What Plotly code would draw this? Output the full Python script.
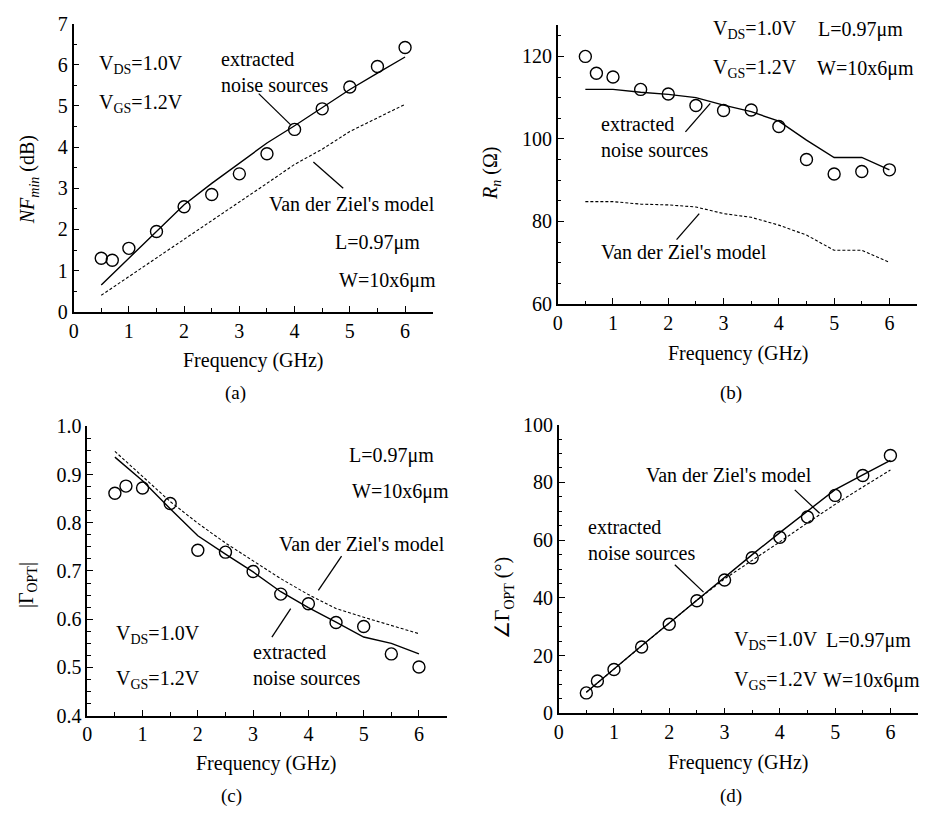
import plotly.graph_objects as go

W, H = 928, 823
FONT = "Liberation Serif"

# ---------------- data ----------------
freq_meas = [0.5, 0.7, 1.0, 1.5, 2.0, 2.5, 3.0, 3.5, 4.0, 4.5, 5.0, 5.5, 6.0]
freq_model = [0.5, 1.0, 1.5, 2.0, 2.5, 3.0, 3.5, 4.0, 4.5, 5.0, 5.5, 6.0]

# (a) NFmin (dB)
nf_meas = [1.30, 1.25, 1.54, 1.95, 2.55, 2.85, 3.35, 3.84, 4.43, 4.93, 5.46, 5.96, 6.42]
nf_extracted = [0.65, 1.30, 1.95, 2.60, 3.12, 3.62, 4.10, 4.52, 4.95, 5.40, 5.80, 6.19]
nf_vdz = [0.40, 0.85, 1.30, 1.76, 2.22, 2.66, 3.12, 3.58, 3.95, 4.38, 4.72, 5.04]

# (b) Rn (Ohm)
rn_meas = [120.0, 115.9, 115.0, 112.0, 110.9, 108.1, 106.9, 107.0, 103.0, 95.0, 91.5, 92.1, 92.5]
rn_extracted = [112.0, 112.0, 111.3, 110.8, 110.0, 108.2, 106.6, 104.3, 99.7, 95.5, 95.5, 92.5]
rn_vdz = [84.8, 84.8, 84.2, 84.0, 83.5, 81.9, 81.0, 79.1, 76.7, 73.0, 73.0, 70.1]

# (c) |Gamma_opt|
gm_meas = [0.861, 0.876, 0.872, 0.840, 0.743, 0.739, 0.699, 0.652, 0.632, 0.593, 0.585, 0.528, 0.501]
gm_extracted = [0.936, 0.887, 0.829, 0.773, 0.735, 0.698, 0.657, 0.624, 0.594, 0.563, 0.550, 0.528]
gm_vdz = [0.948, 0.896, 0.844, 0.799, 0.758, 0.721, 0.684, 0.651, 0.622, 0.604, 0.587, 0.570]

# (d) angle Gamma_opt (deg)
ga_meas = [7.1, 11.2, 15.2, 23.0, 30.9, 39.0, 46.2, 53.9, 61.0, 68.0, 75.5, 82.4, 89.3]
ga_extracted = [7.3, 15.5, 23.4, 31.3, 39.2, 47.2, 55.0, 62.6, 70.0, 77.5, 82.6, 87.6]
ga_vdz = [7.3, 15.5, 23.4, 31.3, 39.2, 46.6, 52.9, 59.4, 66.0, 72.4, 78.4, 84.3]

x_ticks = [0, 1, 2, 3, 4, 5, 6]


def pxx(v):
    return v / W


def pxy(v):
    return 1 - v / H


fig = go.Figure()

panels = [
    ("", nf_meas, nf_extracted, nf_vdz),
    ("2", rn_meas, rn_extracted, rn_vdz),
    ("3", gm_meas, gm_extracted, gm_vdz),
    ("4", ga_meas, ga_extracted, ga_vdz),
]

for suf, meas, ext, vdz in panels:
    xa, ya = "x" + suf, "y" + suf
    fig.add_trace(go.Scatter(x=freq_model, y=ext, mode="lines", xaxis=xa, yaxis=ya,
                             line=dict(color="black", width=1.4), showlegend=False))
    fig.add_trace(go.Scatter(x=freq_model, y=vdz, mode="lines", xaxis=xa, yaxis=ya,
                             line=dict(color="black", width=1.1, dash="3px,2px"), showlegend=False))
    fig.add_trace(go.Scatter(x=freq_meas, y=meas, mode="markers", xaxis=xa, yaxis=ya,
                             marker=dict(symbol="circle-open", size=12, color="black",
                                         line=dict(width=1.4, color="black")),
                             showlegend=False))

tickfont = dict(family=FONT, size=20, color="black")


def xaxis(domain, anchor):
    return dict(domain=domain, anchor=anchor, range=[0, 6.5], tickvals=x_ticks,
                showline=True, linecolor="black", linewidth=1.6, ticks="inside",
                ticklen=6, tickwidth=1.4, tickcolor="black", showgrid=False, zeroline=False,
                tickfont=tickfont, minor=dict(dtick=0.5, tick0=0, ticks="inside", ticklen=3.5,
                                               tickwidth=1.2, tickcolor="black", showgrid=False))


def yaxis(domain, anchor, rng, dtick, minor, tickformat=None):
    d = dict(domain=domain, anchor=anchor, range=rng, dtick=dtick, tick0=rng[0],
             showline=True, linecolor="black", linewidth=1.6, ticks="inside",
             ticklen=6, tickwidth=1.4, tickcolor="black", showgrid=False, zeroline=False,
             tickfont=tickfont, minor=dict(dtick=minor, tick0=rng[0], ticks="inside", ticklen=3.5,
                                            tickwidth=1.2, tickcolor="black", showgrid=False))
    if tickformat:
        d["tickformat"] = tickformat
    return d


fig.update_layout(
    width=W, height=H, autosize=False,
    margin=dict(l=0, r=0, t=0, b=0),
    paper_bgcolor="white", plot_bgcolor="white",
    font=dict(family=FONT, size=20, color="black"),
    xaxis=xaxis([pxx(69), pxx(430)], "y"),
    yaxis=yaxis([pxy(309), pxy(13)], "x", [0, 7], 1, 0.5),
    xaxis2=xaxis([pxx(555.7), pxx(917)], "y2"),
    yaxis2=yaxis([pxy(301), pxy(14)], "x2", [60, 127.7], 20, 5),
    xaxis3=xaxis([pxx(82.7), pxx(444)], "y3"),
    yaxis3=yaxis([pxy(724), pxy(426.7)], "x3", [0.4, 1.0], 0.1, 0.025, ".1f"),
    xaxis4=xaxis([pxx(556.7), pxx(918)], "y4"),
    yaxis4=yaxis([pxy(721.7), pxy(425)], "x4", [0, 100], 20, 5),
)

ann = []
shapes = []


def text(s, x, y, suf, xanchor="left", align="left"):
    ann.append(dict(text=s, x=x, y=y, xref="x" + suf, yref="y" + suf, showarrow=False,
                    xanchor=xanchor, yanchor="middle", align=align,
                    font=dict(family=FONT, size=20, color="black")))


def leader(x0, y0, x1, y1, suf):
    shapes.append(dict(type="line", x0=x0, y0=y0, x1=x1, y1=y1, xref="x" + suf, yref="y" + suf,
                       line=dict(color="black", width=1.3)))


def ptext(s, x, y, angle=0, size=20):
    ann.append(dict(text=s, x=pxx(x), y=pxy(y), xref="paper", yref="paper", showarrow=False,
                    xanchor="center", yanchor="middle", textangle=angle,
                    font=dict(family=FONT, size=size, color="black")))


VDS = "V<sub>DS</sub>=1.0V"
VGS = "V<sub>GS</sub>=1.2V"
LTXT = "L=0.97μm"
WTXT = "W=10x6μm"
EXT = "extracted<br>noise sources"
VDZ = "Van der Ziel's model"

# (a)
text(VDS, 0.43, 6.0, "")
text(VGS, 0.43, 5.06, "")
text(EXT, 2.63, 5.83, "")
text(VDZ, 3.50, 2.62, "")
text(LTXT, 4.70, 1.68, "")
text(WTXT, 4.76, 0.76, "")
leader(3.35, 5.30, 3.93, 4.54, "")
leader(4.88, 3.0, 4.34, 3.64, "")

# (b)
text(VDS, 2.78, 126.5, "2")
text(LTXT, 4.67, 126.5, "2")
text(VGS, 2.78, 117.1, "2")
text(WTXT, 4.65, 117.1, "2")
text(EXT, 0.74, 100.5, "2")
text(VDZ, 0.74, 72.7, "2")
leader(2.31, 101.7, 2.76, 108.6, "2")
leader(2.15, 75.6, 2.56, 81.9, "2")

# (c)
text(LTXT, 4.69, 0.939, "3")
text(WTXT, 4.76, 0.864, "3")
text(VDZ, 3.43, 0.755, "3")
text(EXT, 2.96, 0.506, "3")
text(VDS, 0.49, 0.568, "3")
text(VGS, 0.49, 0.475, "3")
leader(4.60, 0.731, 4.18, 0.660, "3")
leader(3.34, 0.563, 3.68, 0.622, "3")

# (d)
text(VDZ, 1.54, 82.5, "4")
text(EXT, 0.49, 60.0, "4")
text(VDS, 3.13, 25.2, "4")
text(LTXT, 4.79, 25.2, "4")
text(VGS, 3.13, 11.4, "4")
text(WTXT, 4.75, 11.4, "4")
leader(4.27, 77.4, 4.72, 69.3, "4")
leader(2.10, 51.5, 2.62, 42.0, "4")

# axis titles and panel labels
ptext("Frequency (GHz)", 250, 359)
ptext("Frequency (GHz)", 737, 352)
ptext("Frequency (GHz)", 263, 773)
ptext("Frequency (GHz)", 737, 772)

ptext("<i>NF</i><sub><i>min</i></sub> (dB)", 24, 173, -90)
ptext("<i>R</i><sub><i>n</i></sub> (Ω)", 489, 167, -90)
ptext("|Γ<sub>OPT</sub>|", 22, 590, -90)
ptext("∠Γ<sub>OPT</sub> (°)", 502, 603, -90)

ptext("(a)", 232, 392, size=19)
ptext("(b)", 730, 392, size=19)
ptext("(c)", 228, 807, size=19)
ptext("(d)", 730, 807, size=19)

fig.update_layout(annotations=ann, shapes=shapes)
fig.write_html("out.html")
